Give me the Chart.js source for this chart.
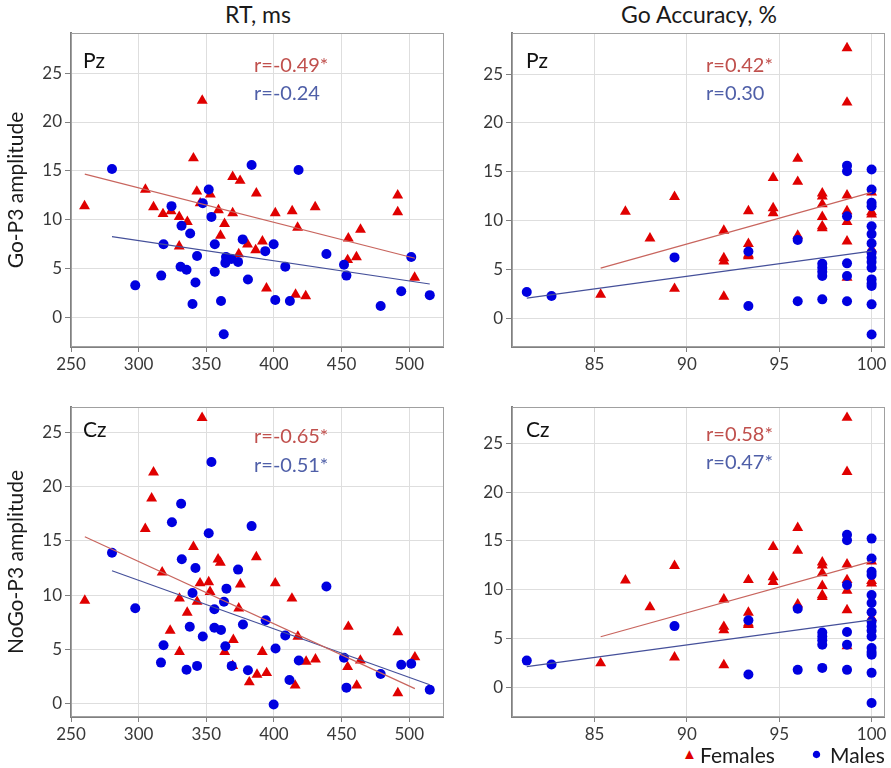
<!DOCTYPE html>
<html>
<head>
<meta charset="utf-8">
<script src="https://cdn.jsdelivr.net/npm/chart.js@4.4.0/dist/chart.umd.min.js"></script>
<style>
  body { margin: 0; background: #fff; font-family: Lato, sans-serif; }
  #page { position: relative; width: 891px; height: 768px; overflow: hidden; }
  .panel { position: absolute; }
  .coltitle { position: absolute; top: 0px; font-size: 23px; color: #1a1a1a; text-align: center; width: 300px; }
  .legend { position: absolute; top: 742px; font-size: 21px; color: #1a1a1a; white-space: nowrap; }
  .mark { position: absolute; top: 746px; font-size: 15px; line-height: 15px; }
</style>
</head>
<body>
<div id="page">
  <div class="coltitle" style="left:108px">RT, ms</div>
  <div class="coltitle" style="left:549px">Go Accuracy, %</div>

  <div class="panel" style="left:0;top:0"><canvas id="rtPz" width="450" height="372"></canvas></div>
  <div class="panel" style="left:450px;top:0"><canvas id="accPz" width="441" height="372"></canvas></div>
  <div class="panel" style="left:0;top:372px"><canvas id="rtCz" width="450" height="372"></canvas></div>
  <div class="panel" style="left:450px;top:372px"><canvas id="accCz" width="441" height="372"></canvas></div>

  <div class="mark" style="left:682px;color:#e00000">&#9650;</div>
  <div class="legend" style="left:700px">Females</div>
  <div class="mark" style="left:812px;color:#0000e0">&#9679;</div>
  <div class="legend" style="left:830px">Males</div>
</div>

<script>
// RT (ms) vs Go-P3 amplitude at Pz
var rtPzFemales = [[260,11.4],[347,22.2],[340.5,16.3],[305,13.1],[311,11.3],[318,10.6],[324,10.9],[330,10.3],[336,9.8],[330,7.3],
  [343,12.9],[345.5,11.7],[353,12.6],[359,11.0],[363.5,9.6],[360.5,8.4],[369.5,14.4],[375,14.0],[369.5,10.7],[374,6.5],
  [380.5,7.5],[386.5,6.9],[391.5,7.8],[387,12.7],[394.5,3.0],[401,10.7],[413.5,10.9],[417.5,9.2],[416,2.35],[423.5,2.2],
  [430.5,11.3],[455,8.1],[454.5,5.9],[461,6.2],[464,9.0],[491.5,12.5],[491.5,10.8],[504,4.1]];
var rtPzMales = [[280.3,15.2],[297.5,3.3],[316.7,4.3],[318.4,7.5],[324.3,11.4],[331.7,9.4],[338.1,8.6],[331,5.2],[335.4,4.9],[343.2,6.3],
  [342,3.6],[339.8,1.4],[347.4,11.7],[351.8,13.1],[353.8,10.3],[356.3,7.5],[356.3,4.7],[360.9,1.7],[362.9,-1.7],[364.6,6.2],
  [364.1,5.6],[368.5,6.0],[373.5,5.7],[376.9,8.0],[380.8,3.9],[383.5,15.6],[393.6,6.8],[399.8,7.5],[401,1.8],[408.4,5.2],
  [411.8,1.7],[418.2,15.1],[438.8,6.5],[451.8,5.4],[453.6,4.3],[478.9,1.2],[494.1,2.7],[501.5,6.2],[515.2,2.3]];
var rtPzFemFit = [[260.2,14.67],[504.2,6.07]];
var rtPzMaleFit = [[280.3,8.29],[515.2,3.44]];

// RT (ms) vs NoGo-P3 amplitude at Cz
var rtCzFemales = [[260.2,9.5],[346.9,26.3],[311,21.3],[309.6,18.9],[304.9,16.1],[317.4,12.1],[330.2,9.7],[335.9,8.4],[323.3,6.75],[330.2,4.8],
  [340.5,14.45],[343.2,9.4],[345.4,11.1],[351.8,11.2],[352.8,10.3],[358.7,13.3],[360.4,13.0],[363.6,4.8],[369.5,3.5],[370,5.9],
  [374,8.8],[375.2,11.0],[381.8,2.0],[387,13.5],[387.5,2.7],[391.4,4.8],[394.6,2.85],[401,11.1],[413.3,9.7],[415.7,1.7],
  [417.7,6.2],[423.8,3.9],[430.7,4.1],[455,7.1],[454.5,3.4],[461.2,1.7],[463.9,4.0],[491.6,6.6],[491.6,1.0],[504.2,4.3]];
var rtCzMales = [[280.3,13.9],[297.5,8.8],[316.5,3.8],[318.4,5.4],[324.6,16.7],[331.4,18.4],[331.9,13.3],[335.4,3.15],[337.8,7.1],[339.8,10.2],
  [342,12.5],[343.2,3.5],[347.4,6.2],[351.8,15.7],[353.8,22.25],[356,8.7],[356,7.0],[360.9,6.8],[363.1,9.4],[364.9,10.6],
  [364.1,5.3],[368.8,3.5],[373.5,12.35],[377.1,7.3],[380.8,3.1],[383.5,16.35],[393.9,7.7],[399.8,-0.05],[401.2,5.1],[408.4,6.3],
  [411.5,2.2],[418.4,4.0],[438.8,10.8],[451.8,4.25],[453.6,1.5],[478.9,2.75],[494.1,3.6],[501.5,3.7],[515.2,1.3]];
var rtCzFemFit = [[260.2,15.37],[504.2,1.41]];
var rtCzMaleFit = [[280.3,12.25],[515.2,1.77]];

// Go accuracy (%) vs amplitude (same points in the Pz and Cz panels of the figure)
var accFemales = [[85.33,2.45],[86.67,10.95],[88,8.2],[89.33,12.45],[89.33,3.06],[92,9.0],[92,6.2],[92,5.85],[92,2.25],
  [93.33,11.0],[93.33,7.65],[93.33,6.55],[93.33,6.4],[94.67,14.4],[94.67,11.3],[94.67,10.8],[96,16.35],[96,14.0],[96,8.5],
  [97.33,12.8],[97.33,12.5],[97.33,11.7],[97.33,10.4],[97.33,9.45],[97.33,9.25],[98.67,27.65],[98.67,22.1],[98.67,12.6],
  [98.67,11.0],[98.67,9.9],[98.67,7.9],[98.67,4.2],[100,12.9],[100,10.9],[100,10.65],[100,7.1]];
var accMales = [[81.33,2.72],[82.67,2.31],[89.33,6.26],[93.33,6.87],[93.33,1.29],[96,8.05],[96,1.77],[97.33,5.61],[97.33,5.2],
  [97.33,4.8],[97.33,4.35],[97.33,1.97],[98.67,15.64],[98.67,15.07],[98.67,10.47],[98.67,5.65],[98.67,4.35],[98.67,1.77],
  [100,15.24],[100,13.2],[100,11.84],[100,11.5],[100,9.45],[100,8.64],[100,7.69],[100,6.73],[100,6.22],[100,5.78],
  [100,5.2],[100,4.01],[100,3.6],[100,3.33],[100,1.46],[100,-1.63]];
var accFemFit = [[85.33,5.17],[100,12.9]];
var accMaleFit = [[81.33,2.1],[100,6.9]];

var rLabels = {
  rtPz: ['r=-0.49*', 'r=-0.24'],
  accPz: ['r=0.42*', 'r=0.30'],
  rtCz: ['r=-0.65*', 'r=-0.51*'],
  accCz: ['r=0.58*', 'r=0.47*']
};

Chart.defaults.font.family = 'Lato, "Open Sans", sans-serif';
Chart.defaults.animation = false;

var RED = '#e00000', BLUE = '#0000e0';
var RED_LINE = '#c8655e', BLUE_LINE = '#45509a';
var RED_TEXT = '#c0504d', BLUE_TEXT = '#4f5fa8';

function pts(arr) {
  return arr.map(function (p) { return { x: p[0], y: p[1] }; });
}

// frame around the plot area and the in-plot labels
var panelText = {
  id: 'panelText',
  beforeDatasetsDraw: function (chart) {
    var a = chart.chartArea, ctx = chart.ctx;
    ctx.save();
    ctx.strokeStyle = '#a0a0a0';
    ctx.lineWidth = 1;
    ctx.strokeRect(Math.round(a.left) + 0.5, Math.round(a.top) + 0.5,
      Math.round(a.right - a.left) - 1, Math.round(a.bottom - a.top) - 1);
    ctx.restore();
  },
  afterDraw: function (chart, args, opts) {
    var a = chart.chartArea, ctx = chart.ctx;
    ctx.save();
    (opts.items || []).forEach(function (t) {
      ctx.font = t.size + 'px Lato, sans-serif';
      ctx.fillStyle = t.color;
      ctx.textBaseline = 'alphabetic';
      ctx.fillText(t.text, a.left + t.dx, a.top + t.dy);
    });
    ctx.restore();
  }
};

function makePanel(id, cfg) {
  new Chart(document.getElementById(id), {
    type: 'scatter',
    data: {
      datasets: [
        { data: pts(cfg.femFit), showLine: true, borderColor: RED_LINE, borderWidth: 1.2, pointRadius: 0, fill: false },
        { data: pts(cfg.maleFit), showLine: true, borderColor: BLUE_LINE, borderWidth: 1.2, pointRadius: 0, fill: false },
        { data: pts(cfg.males), pointStyle: 'circle', pointRadius: 5, backgroundColor: BLUE, borderColor: BLUE, borderWidth: 0 },
        { data: pts(cfg.females), pointStyle: 'triangle', pointRadius: 6.3, backgroundColor: RED, borderColor: RED, borderWidth: 0 }
      ]
    },
    options: {
      responsive: false,
      layout: { padding: { top: cfg.padTop, right: 5, left: 0, bottom: 0 } },
      plugins: {
        legend: { display: false },
        tooltip: { enabled: false },
        panelText: { items: cfg.texts }
      },
      scales: {
        x: {
          type: 'linear', min: cfg.xMin, max: cfg.xMax,
          ticks: { stepSize: cfg.xStep, includeBounds: false, color: '#383838', font: { size: 17 }, padding: 2, maxRotation: 0 },
          grid: { color: '#dedede', tickLength: 5, tickColor: '#808080' },
          border: { color: '#808080', width: 2 },
          afterFit: function (s) { s.height = cfg.xHeight; }
        },
        y: {
          type: 'linear', min: cfg.yMin, max: cfg.yMax,
          ticks: { stepSize: 5, includeBounds: false, color: '#383838', font: { size: 17 }, padding: 3 },
          grid: { color: '#dedede', tickLength: 6, tickColor: '#808080' },
          border: { color: '#808080', width: 2 },
          title: { display: !!cfg.yTitle, text: cfg.yTitle || '', color: '#1a1a1a', font: { size: 21 } },
          afterFit: function (s) { s.width = cfg.yWidth; }
        }
      }
    },
    plugins: [panelText]
  });
}

function labelTexts(site, r, dxSite, dxR, dySite, dyR1, dyR2) {
  return [
    { text: site, color: '#111', size: 21, dx: dxSite, dy: dySite },
    { text: r[0], color: RED_TEXT, size: 20, dx: dxR, dy: dyR1 },
    { text: r[1], color: BLUE_TEXT, size: 20, dx: dxR, dy: dyR2 }
  ];
}

makePanel('rtPz', {
  females: rtPzFemales, males: rtPzMales, femFit: rtPzFemFit, maleFit: rtPzMaleFit,
  xMin: 250, xMax: 525.5, xStep: 50, yMin: -3, yMax: 29.1,
  yTitle: 'Go-P3 amplitude', yWidth: 71, xHeight: 25, padTop: 33,
  texts: labelTexts('Pz', rLabels.rtPz, 12, 183, 35, 39, 67)
});
makePanel('accPz', {
  females: accFemales, males: accMales, femFit: accFemFit, maleFit: accMaleFit,
  xMin: 80.53, xMax: 100.71, xStep: 5, yMin: -2.9, yMax: 29.2,
  yTitle: null, yWidth: 62, xHeight: 25, padTop: 33,
  texts: labelTexts('Pz', rLabels.accPz, 14, 194, 35, 39, 67)
});
makePanel('rtCz', {
  females: rtCzFemales, males: rtCzMales, femFit: rtCzFemFit, maleFit: rtCzMaleFit,
  xMin: 250, xMax: 525.5, xStep: 50, yMin: -1.2, yMax: 27.3,
  yTitle: 'NoGo-P3 amplitude', yWidth: 71, xHeight: 27, padTop: 35,
  texts: labelTexts('Cz', rLabels.rtCz, 12, 183, 30, 36, 65)
});
makePanel('accCz', {
  females: accFemales, males: accMales, femFit: accFemFit, maleFit: accMaleFit,
  xMin: 80.53, xMax: 100.71, xStep: 5, yMin: -3.07, yMax: 28.75,
  yTitle: null, yWidth: 62, xHeight: 27, padTop: 35,
  texts: labelTexts('Cz', rLabels.accCz, 14, 194, 30, 34, 62)
});
</script>
</body>
</html>
